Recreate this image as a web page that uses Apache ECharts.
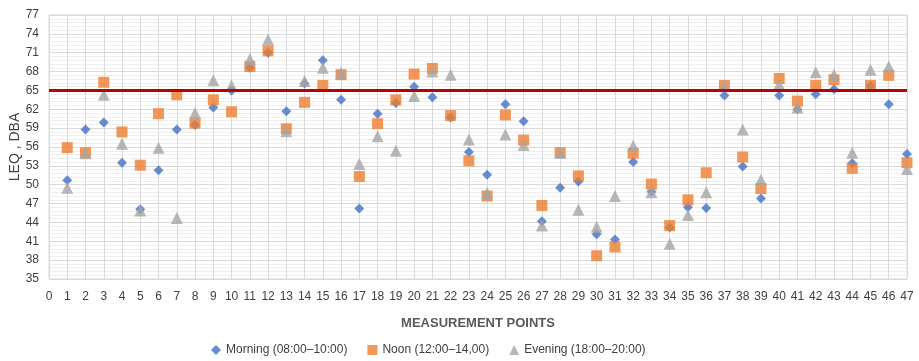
<!DOCTYPE html>
<html>
<head>
<meta charset="utf-8">
<script src="https://cdn.jsdelivr.net/npm/echarts@6/dist/echarts.min.js"></script>
<style>html,body{margin:0;padding:0;background:#fff}#c{width:919px;height:361px}</style>
</head>
<body>
<div id="c"></div>
<script>
const points = [];
for (let i = 1; i <= 47; i++) points.push(i);
const morning = [50.7,58.8,59.9,53.5,46.1,52.3,58.8,59.5,62.3,65.0,68.6,71.0,61.7,66.1,69.8,63.5,46.2,61.3,63.0,65.6,63.9,60.7,55.2,51.6,62.8,60.1,44.2,49.5,50.5,42.1,41.3,53.6,48.9,43.2,46.4,46.3,64.2,52.9,47.8,64.2,62.0,64.4,65.2,53.4,65.7,62.8,54.9];
const noon = [55.9,55.1,66.3,58.4,53.1,61.3,64.3,59.8,63.5,61.6,68.8,71.3,58.9,63.1,65.8,67.5,51.3,59.7,63.5,67.6,68.5,61.0,53.8,48.2,61.1,57.1,46.7,55.1,51.4,38.7,40.1,55.0,50.1,43.5,47.6,51.9,65.8,54.4,49.4,66.9,63.3,65.8,66.7,52.6,65.8,67.4,53.5];
const evening = [49.5,55.0,64.3,56.5,45.9,55.9,44.7,61.4,66.6,65.8,70.0,73.1,58.5,66.5,68.6,67.8,53.3,57.7,55.4,64.1,68.0,67.5,57.2,48.7,58.0,56.3,43.5,55.1,46.0,43.3,48.2,56.2,48.8,40.6,45.2,48.8,65.7,58.8,50.8,66.0,62.3,67.9,67.5,55.1,68.3,68.8,52.5];
const limitValue = 65;
const seriesNames = ['Morning (08:00\u201310:00)', 'Noon (12:00\u201314,00)', 'Evening (18:00\u201320:00)'];

const pair = arr => arr.map((v, i) => [points[i], v]);
const font = 'Liberation Sans, Arial, sans-serif';
const chart = echarts.init(document.getElementById('c'), null, {renderer: 'canvas'});
chart.setOption({
  animation: false,
  textStyle: {fontFamily: font},
  grid: {left: 49, right: 12, top: 15, bottom: 82, containLabel: false, outerBoundsMode: 'none',
         show: true, borderColor: '#d9d9d9', borderWidth: 1},
  xAxis: {
    type: 'value', min: 0, max: 47, interval: 1,
    name: 'MEASUREMENT POINTS', nameLocation: 'middle', nameGap: 38,
    nameTextStyle: {fontSize: 13, fontWeight: 'bold', color: '#595959', fontFamily: font},
    axisLine: {show: false}, axisTick: {show: false},
    axisLabel: {fontSize: 12, color: '#404040', margin: 12, fontFamily: font},
    splitLine: {show: true, lineStyle: {color: '#d9d9d9', width: 1}}
  },
  yAxis: {
    type: 'value', min: 35, max: 77, interval: 3,
    name: 'LEQ , DBA', nameLocation: 'middle', nameGap: 27, nameMoveOverlap: false,
    nameTextStyle: {fontSize: 14, color: '#404040', fontFamily: font},
    axisLine: {show: false}, axisTick: {show: false},
    axisLabel: {fontSize: 12, color: '#404040', margin: 10, fontFamily: font},
    splitLine: {show: true, lineStyle: {color: '#d9d9d9', width: 1}},
    minorTick: {show: false, splitNumber: 5},
    minorSplitLine: {show: true, lineStyle: {color: '#efefef', width: 1}}
  },
  legend: {
    bottom: 0, left: 206, itemGap: 20, itemWidth: 10, itemHeight: 10,
    textStyle: {fontSize: 12, color: '#404040', fontFamily: font},
    data: [
      {name: seriesNames[0], icon: 'diamond'},
      {name: seriesNames[1], icon: 'rect'},
      {name: seriesNames[2], icon: 'triangle'}
    ]
  },
  series: [
    {name: seriesNames[0], type: 'scatter', data: pair(morning), symbol: 'diamond', symbolSize: 10,
     itemStyle: {color: '#4472C4'},
     markLine: {silent: true, symbol: 'none', label: {show: false},
       lineStyle: {color: '#C00000', width: 3, type: 'solid'},
       data: [{yAxis: limitValue}]}},
    {name: seriesNames[1], type: 'scatter', data: pair(noon), symbol: 'rect', symbolSize: 11,
     itemStyle: {color: '#ED7D31'}},
    {name: seriesNames[2], type: 'scatter', data: pair(evening), symbol: 'triangle', symbolSize: 12,
     itemStyle: {color: '#A5A5A5'}}
  ]
});
</script>
</body>
</html>
